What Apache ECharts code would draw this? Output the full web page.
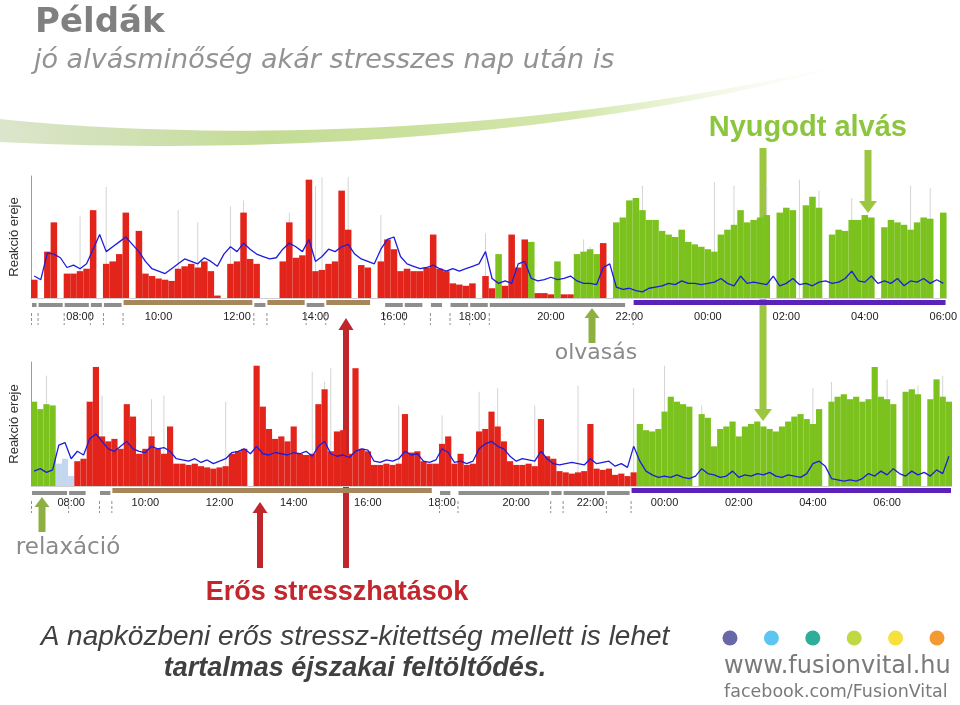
<!DOCTYPE html>
<html>
<head>
<meta charset="utf-8">
<script src="https://cdn.jsdelivr.net/npm/echarts@6/dist/echarts.min.js"></script>
<style>
  html, body { margin: 0; padding: 0; background: #fff; }
  #chart { width: 960px; height: 705px; }
</style>
</head>
<body>
<div id="chart"></div>
<script>
// 10-minute bins, "reaction strength" 0..100 of the panel height

// first recording: 06:50 .. 06:00 next morning
const day1Start = '06:50';
const day1Bars = [
  15, 0, 38, 62, 0, 20, 20, 22, 24, 72,
  0, 28, 30, 36, 70, 0, 55, 20, 18, 16,
  15, 14, 24, 26, 28, 25, 30, 22, 2, 0,
  28, 30, 70, 32, 28, 0, 0, 0, 30, 62,
  33, 35, 97, 22, 23, 28, 30, 88, 56, 0,
  27, 25, 0, 30, 48, 40, 22, 24, 22, 22,
  25, 52, 24, 22, 12, 11, 10, 12, 0, 18,
  8, 36, 10, 52, 25, 48, 46, 4, 4, 3,
  30, 3, 3, 36, 38, 40, 36, 45, 0, 62,
  66, 80, 82, 72, 64, 64, 55, 52, 50, 56,
  46, 44, 42, 40, 38, 52, 56, 60, 72, 62,
  64, 66, 68, 0, 70, 74, 72, 0, 76, 83,
  74, 0, 52, 56, 55, 64, 64, 68, 66, 0,
  58, 64, 62, 60, 56, 62, 66, 65, 0, 70
];
const day1Line = [
  18, 15, 37, 36, 33, 25, 27, 24, 28, 40,
  52, 38, 42, 46, 50, 44, 38, 30, 24, 22,
  20, 24, 28, 32, 30, 28, 33, 30, 26, 36,
  42, 38, 45, 40, 36, 34, 32, 33, 40, 45,
  42, 38, 48, 30, 34, 40, 38, 42, 44, 36,
  32, 30, 28, 40, 48, 50, 34, 28, 26, 24,
  25, 27, 24, 22, 24, 22, 24, 26, 28, 38,
  16, 12, 14, 12, 28, 30, 16, 14, 15, 17,
  15, 16, 18, 14, 12, 12, 11, 25, 28, 9,
  7, 8, 6, 5, 8, 9, 10, 12, 11, 14,
  12, 12, 11, 12, 13, 16, 12, 10, 18, 12,
  13, 12, 11, 18, 10, 12, 16, 11, 12, 10,
  13, 14, 12, 13, 16, 22, 14, 13, 18, 12,
  14, 12, 16, 10, 14, 13, 16, 12, 15, 12
];
// short peaks drawn as faint grey needles
const day1Peaks = [
  ['08:00', 67], ['08:40', 91], ['10:30', 72], ['11:00', 62], ['11:50', 75], ['12:10', 80],
  ['13:20', 70], ['14:10', 99], ['14:00', 92], ['14:50', 99], ['15:40', 68], ['18:20', 53],
  ['20:50', 48], ['21:00', 42], ['22:20', 92], ['00:10', 95], ['00:40', 92], ['01:30', 92],
  ['02:20', 97], ['02:50', 88], ['03:40', 82], ['05:10', 92], ['05:40', 90]
];
const day1Rest = [['18:40', '18:40'], ['19:30', '19:30'], ['20:10', '20:10'], ['20:40', '21:10'], ['21:40', '06:00']];
const day1Light = [];
const day1Strip = [
  ['06:50', '06:50', 'activity'], ['07:00', '07:30', 'activity'], ['07:40', '08:10', 'activity'],
  ['08:20', '08:30', 'activity'], ['08:40', '09:00', 'activity'], ['09:10', '12:20', 'work'],
  ['12:30', '12:40', 'activity'], ['12:50', '13:40', 'work'], ['13:50', '14:10', 'activity'],
  ['14:20', '15:20', 'work'], ['15:50', '16:10', 'activity'], ['16:20', '16:40', 'activity'],
  ['17:00', '17:10', 'activity'], ['17:30', '17:50', 'activity'], ['18:00', '18:20', 'activity'],
  ['18:30', '21:50', 'activity'], ['22:10', '06:00', 'sleep']
];

// second recording: 07:00 .. 07:40 next morning
const day2Start = '07:00';
const day2Bars = [
  68, 62, 66, 65, 18, 22, 8, 20, 22, 68,
  96, 40, 36, 38, 30, 66, 56, 26, 30, 40,
  30, 26, 48, 18, 18, 17, 18, 16, 15, 14,
  15, 16, 26, 28, 30, 0, 97, 64, 46, 38,
  40, 36, 48, 26, 25, 26, 66, 78, 28, 44,
  45, 26, 95, 30, 28, 17, 17, 18, 17, 18,
  58, 27, 28, 20, 18, 18, 34, 40, 18, 26,
  17, 18, 44, 46, 60, 48, 36, 20, 17, 17,
  18, 16, 54, 24, 22, 12, 11, 10, 11, 12,
  50, 14, 13, 14, 9, 10, 8, 11, 50, 45,
  44, 46, 60, 72, 68, 66, 64, 0, 58, 55,
  32, 46, 48, 52, 40, 48, 50, 52, 48, 46,
  44, 48, 52, 56, 58, 54, 50, 62, 0, 68,
  72, 74, 70, 72, 68, 70, 96, 72, 70, 66,
  0, 76, 78, 74, 0, 70, 86, 72, 68
];
const day2Line = [
  12, 14, 11, 13, 33, 35, 22, 28, 25, 38,
  42, 36, 30, 28, 32, 36, 30, 28, 27, 32,
  30, 31, 28, 22, 21, 20, 22, 19, 21, 18,
  20, 22, 27, 28, 30, 26, 32, 26, 25, 27,
  26, 25, 27, 26, 28, 24, 32, 36, 26, 24,
  25, 23, 28, 30, 29, 20, 19, 21, 20, 22,
  28, 25, 26, 20, 19, 21, 30, 27, 19, 20,
  18, 20, 30, 34, 36, 32, 30, 24, 20, 22,
  21, 20, 28, 22, 18, 17, 18, 19, 18, 17,
  22, 18, 19, 20, 16, 18, 15, 32, 20, 12,
  9, 7, 8, 7, 9, 7, 6, 8, 14, 10,
  9, 7, 8, 12, 7, 9, 8, 10, 9, 11,
  8, 7, 9, 8, 7, 10, 18, 20, 16, 6,
  5, 4, 5, 4, 6, 10, 8, 12, 9, 14,
  10, 8, 12, 9, 11, 8, 13, 10, 24
];
const day2Peaks = [
  ['07:20', 89], ['08:50', 73], ['10:10', 70], ['10:30', 73], ['12:10', 68], ['14:30', 92],
  ['14:50', 84], ['15:00', 95], ['16:50', 65], ['18:00', 57], ['19:00', 76], ['19:30', 79],
  ['20:30', 65], ['21:40', 81], ['23:10', 79], ['00:00', 97], ['01:00', 65], ['04:00', 79],
  ['04:30', 84], ['05:40', 89], ['06:00', 86], ['06:50', 81], ['07:30', 89]
];
const day2Rest = [['07:00', '07:30'], ['23:20', '07:40']];
const day2Light = [['07:40', '08:00']];
const day2Strip = [
  ['07:00', '07:50', 'activity'], ['08:00', '08:20', 'activity'], ['08:50', '09:00', 'activity'],
  ['09:10', '17:40', 'work'], ['18:00', '18:10', 'activity'], ['18:30', '20:50', 'activity'],
  ['21:00', '21:10', 'activity'], ['21:20', '22:20', 'activity'], ['22:30', '23:00', 'activity'],
  ['23:10', '07:40', 'sleep']
];

const hourLabels = ['08:00', '10:00', '12:00', '14:00', '16:00', '18:00', '20:00', '22:00', '00:00', '02:00', '04:00', '06:00'];

const RED = '#e2241b';
const GREEN = '#7cc21e';
const LIGHT = '#c3d7ef';
const BLUE = '#1d1ddb';
const stripKinds = {
  activity: { color: '#8e8e8e', dy: 5, h: 4 },
  work: { color: '#a6865a', dy: 2, h: 5 },
  sleep: { color: '#5a22b8', dy: 2, h: 5 }
};

function timeBins(start, count) {
  const [h, m] = start.split(':').map(Number);
  const out = [];
  for (let i = 0; i < count; i++) {
    const t = (h * 60 + m + i * 10) % 1440;
    out.push(String(Math.floor(t / 60)).padStart(2, '0') + ':' + String(t % 60).padStart(2, '0'));
  }
  return out;
}

// time ranges -> index ranges, searching forward so the morning after is found
function resolve(cats, ranges) {
  let from = 0;
  return ranges.map(r => {
    const s = cats.indexOf(r[0], from);
    const e = cats.indexOf(r[1], s);
    from = e;
    return [s, e].concat(r.slice(2));
  });
}

// peaks are listed in time order; find each one after the previous
function resolvePeaks(cats, peaks) {
  let from = 0;
  return peaks.map(p => {
    let i = cats.indexOf(p[0], from);
    if (i < 0) i = cats.indexOf(p[0]);
    from = i;
    return [i, p[1]];
  });
}

function panel(k, cats, bars, line, peaks, rest, light, strip) {
  const restIdx = resolve(cats, rest);
  const lightIdx = resolve(cats, light);
  const inside = (rs, i) => rs.some(r => i >= r[0] && i <= r[1]);
  const kinds = Object.keys(stripKinds);
  const stripData = resolve(cats, strip).map(r => [r[0], r[1], kinds.indexOf(r[2])]);
  return [
    {
      type: 'custom', xAxisIndex: k, yAxisIndex: k, data: resolvePeaks(cats, peaks),
      encode: { x: 0, y: 1 }, silent: true, z: 1,
      renderItem: (params, api) => {
        const a = api.coord([api.value(0), 0]);
        const b = api.coord([api.value(0), api.value(1)]);
        return { type: 'line', shape: { x1: a[0], y1: a[1], x2: b[0], y2: b[1] }, style: { stroke: '#d4d4d4', lineWidth: 1 } };
      }
    },
    {
      type: 'bar', xAxisIndex: k, yAxisIndex: k, data: bars,
      barCategoryGap: '0%', silent: true, z: 2,
      itemStyle: { color: p => inside(restIdx, p.dataIndex) ? GREEN : inside(lightIdx, p.dataIndex) ? LIGHT : RED }
    },
    {
      type: 'line', xAxisIndex: k, yAxisIndex: k, data: line,
      symbol: 'none', silent: true, z: 3,
      lineStyle: { color: BLUE, width: 1.3 }
    },
    {
      type: 'custom', xAxisIndex: k, yAxisIndex: k, data: stripData,
      encode: { x: [0, 1], y: 2 }, silent: true, z: 3,
      renderItem: (params, api) => {
        const band = api.size([1, 0])[0];
        const p0 = api.coord([api.value(0), 0]);
        const p1 = api.coord([api.value(1), 0]);
        const st = stripKinds[kinds[api.value(2)]];
        const x0 = p0[0] - band / 2, x1 = p1[0] + band / 2;
        return {
          type: 'group',
          children: [
            { type: 'rect', shape: { x: x0 + 1, y: p0[1] + st.dy, width: x1 - x0 - 2, height: st.h }, style: { fill: st.color } },
            { type: 'line', shape: { x1: x0 + 0.5, y1: p0[1] + 15, x2: x0 + 0.5, y2: p0[1] + 27 }, style: { stroke: '#8f8f8f', lineWidth: 1, lineDash: [3, 2] } }
          ]
        };
      }
    }
  ];
}

function xAxis(k, cats, margin) {
  return {
    type: 'category', gridIndex: k, data: cats,
    axisLine: { show: true, lineStyle: { color: '#cfcfcf' } },
    axisTick: { show: false },
    splitLine: { show: false },
    axisLabel: {
      interval: (i, v) => hourLabels.includes(v),
      margin: margin, fontFamily: 'Liberation Sans', fontSize: 11, color: '#222'
    }
  };
}

function yAxis(k) {
  return {
    type: 'value', gridIndex: k, min: 0, max: 100,
    splitLine: { show: false }, axisTick: { show: false }, axisLabel: { show: false },
    axisLine: { show: true, lineStyle: { color: '#9c9c9c' } },
    name: 'Reakció ereje', nameLocation: 'middle', nameGap: 10,
    nameTextStyle: { fontFamily: 'Liberation Sans', fontSize: 13, color: '#333' }
  };
}

function arrow(x, tail, tip, base, shaft, head, color, up) {
  const top = up ? base : tail;
  const bottom = up ? tail : base;
  return {
    type: 'group', z: 100, silent: true,
    children: [
      { type: 'rect', shape: { x: x - shaft / 2, y: top, width: shaft, height: bottom - top }, style: { fill: color } },
      { type: 'polygon', shape: { points: [[x - head / 2, base], [x + head / 2, base], [x, tip]] }, style: { fill: color } }
    ]
  };
}

function label(text, x, y, font, fill, align) {
  return {
    type: 'text', x: x, y: y, z: 100, silent: true,
    style: { text: text, font: font, fill: fill, textAlign: align || 'left', textVerticalAlign: 'middle' }
  };
}

// outline of the decorative swoosh: two cubic curves sampled into a polygon
function cubic(p0, p1, p2, p3, n) {
  const pts = [];
  for (let i = 0; i <= n; i++) {
    const t = i / n, u = 1 - t;
    pts.push([
      u * u * u * p0[0] + 3 * u * u * t * p1[0] + 3 * u * t * t * p2[0] + t * t * t * p3[0],
      u * u * u * p0[1] + 3 * u * u * t * p1[1] + 3 * u * t * t * p2[1] + t * t * t * p3[1]
    ]);
  }
  return pts;
}
const swoosh = cubic([0, 119], [220, 142], [560, 136], [885, 55], 40)
  .concat(cubic([885, 55], [570, 146], [230, 153], [0, 142], 40));

const day1Cats = timeBins(day1Start, day1Bars.length);
const day2Cats = timeBins(day2Start, day2Bars.length);

const dotColors = ['#6868a8', '#5cc6ef', '#2eae98', '#c2d843', '#f6e13c', '#f29a31'];

const chart = echarts.init(document.getElementById('chart'));
chart.setOption({
  animation: false,
  backgroundColor: '#fff',
  grid: [
    { left: 30, top: 176, width: 928, height: 122 },
    { left: 30, top: 362, width: 922, height: 124 }
  ],
  xAxis: [xAxis(0, day1Cats, 13), xAxis(1, day2Cats, 11)],
  yAxis: [yAxis(0), yAxis(1)],
  series: panel(0, day1Cats, day1Bars, day1Line, day1Peaks, day1Rest, day1Light, day1Strip)
    .concat(panel(1, day2Cats, day2Bars, day2Line, day2Peaks, day2Rest, day2Light, day2Strip)),
  graphic: [
    {
      type: 'polygon', z: 1, silent: true,
      shape: { points: swoosh },
      style: {
        fill: {
          type: 'linear', x: 0, y: 0, x2: 1, y2: 0,
          colorStops: [
            { offset: 0, color: 'rgba(200,216,176,0.65)' },
            { offset: 0.3, color: '#c3dc94' },
            { offset: 0.65, color: '#d3e7aa' },
            { offset: 1, color: 'rgba(255,255,255,0)' }
          ]
        }
      }
    },
    label('Példák', 35, 23, 'bold 34px "DejaVu Sans"', '#808080'),
    label('jó alvásminőség akár stresszes nap után is', 34, 61, 'italic 27px "DejaVu Sans"', '#939393'),
    label('Nyugodt alvás', 907, 128, 'bold 29px "Liberation Sans Narrow", "Liberation Sans"', '#8cc63e', 'right'),
    label('olvasás', 596, 353, '22px "DejaVu Sans"', '#8a8a8a', 'center'),
    label('relaxáció', 68, 548, '23px "DejaVu Sans"', '#8a8a8a', 'center'),
    label('Erős stresszhatások', 337, 593, 'bold 27px "Liberation Sans"', '#c1272d', 'center'),
    label('A napközbeni erős stressz-kitettség mellett is lehet', 355, 637, 'italic 28px "Liberation Sans"', '#404040', 'center'),
    label('tartalmas éjszakai feltöltődés.', 355, 669, 'italic bold 27px "Liberation Sans"', '#404040', 'center'),
    label('www.fusionvital.hu', 724, 667, '24px "DejaVu Sans"', '#7a7a7a'),
    label('facebook.com/FusionVital', 724, 692, '17.5px "DejaVu Sans"', '#7a7a7a'),
    arrow(763, 148, 421, 409, 7, 18, '#9cc640', false),
    arrow(868, 150, 213, 201, 7, 18, '#9cc640', false),
    arrow(592, 343, 308, 318, 7, 15, '#8eb043', true),
    arrow(42, 532, 497, 507, 7, 15, '#8eb043', true),
    arrow(346, 568, 318, 330, 6, 15, '#c0272d', true),
    arrow(260, 568, 502, 513, 6, 15, '#c0272d', true)
  ].concat(dotColors.map((c, i) => ({
    type: 'circle', z: 100, silent: true,
    shape: { cx: 730 + i * 41.4, cy: 638, r: 7.5 },
    style: { fill: c }
  })))
});
</script>
</body>
</html>
